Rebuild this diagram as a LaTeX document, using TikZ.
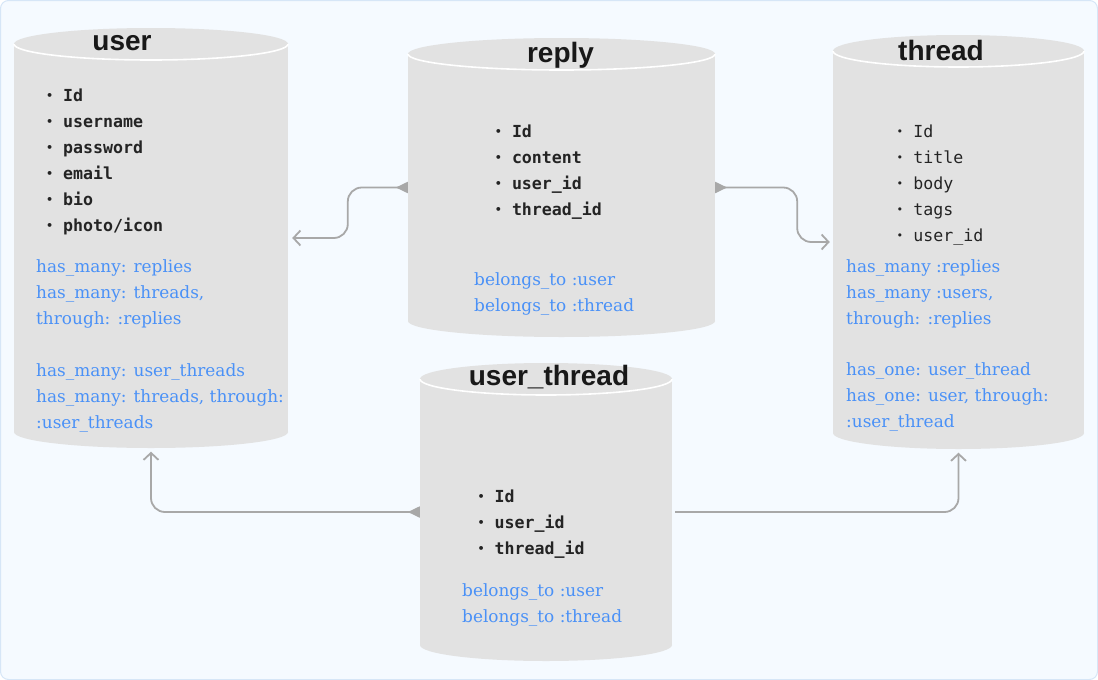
\documentclass[tikz,border=0pt]{standalone}
\usepackage{fontspec}
\setmainfont{DejaVu Serif}
\newfontfamily\titlefont{Liberation Sans}
\newfontfamily\monofont{DejaVu Sans Mono}
\usetikzlibrary{arrows.meta}
\definecolor{bgfill}{RGB}{245,250,255}
\definecolor{bgline}{RGB}{214,230,247}
\definecolor{cylgray}{RGB}{226,226,226}
\definecolor{linkgray}{RGB}{168,168,168}
\definecolor{relblue}{RGB}{74,145,247}
\definecolor{inktext}{RGB}{36,36,36}
\definecolor{titleink}{RGB}{24,24,24}
\newcommand{\dbcyl}[5]{%
  \pgfmathsetmacro\cylcx{(#2+#3)/2}%
  \pgfmathsetmacro\cylrx{(#3-#2)/2}%
  \pgfmathsetmacro\cylcy{(#4+#5)/2}%
  \pgfmathsetmacro\cylh{#5-#4+32}%
  \pgfmathsetmacro\cylw{#3-#2}%
  \fill[cylgray] (#2,#4) rectangle (#3,#5);
  \fill[cylgray] (\cylcx,#5) ellipse [x radius=\cylrx, y radius=16];
  \fill[cylgray] (\cylcx,#4) ellipse [x radius=\cylrx, y radius=16];
  \begin{scope}
    \clip (#2-4,#4) rectangle (#3+4,#4+20);
    \draw[white, line width=1.6pt] (\cylcx,#4) ellipse [x radius=\cylrx, y radius=16];
  \end{scope}
  \node[inner sep=0pt, minimum width=\cylw pt, minimum height=\cylh pt] (#1) at (\cylcx,\cylcy) {};
}
\newcommand\bul{\makebox[18.5pt][l]{\hspace{1.6pt}\raisebox{1.6pt}{\fontsize{11}{11}\selectfont •}}}
\tikzset{
  fld/.style={font=\monofont\bfseries\fontsize{16.6}{20}\selectfont, text=inktext, inner sep=0pt, anchor=base west},
  fldlight/.style={font=\monofont\fontsize{16.6}{20}\selectfont, text=inktext, inner sep=0pt, anchor=base west},
  rel/.style={font=\fontsize{16.9}{20}\selectfont, text=relblue, inner sep=0pt, anchor=base west},
  ttl/.style={font=\titlefont\bfseries\fontsize{28}{32}\selectfont, text=titleink, inner sep=0pt, anchor=base},
  link/.style={draw=linkgray, line width=1.8pt, rounded corners=14pt},
  tiptri/.style={{Triangle[reversed,length=12pt,width=11pt]}-{Straight Barb[length=7pt,width=15pt]}},
  tipopen/.style={-{Straight Barb[length=7pt,width=15pt]}}
}
\begin{document}
\begin{tikzpicture}[x=1pt,y=-1pt]
\useasboundingbox (0,0) rectangle (1098,680);
\draw[bgline, fill=bgfill, rounded corners=8pt, line width=1pt] (0.5,0.5) rectangle (1097.5,679.5);

% cylinders
\dbcyl{user}{14}{288}{44}{432}
\dbcyl{reply}{408}{715}{54}{321}
\dbcyl{thread}{833}{1084}{51}{433}
\dbcyl{userthread}{420}{672}{379}{645}

% titles
\node[ttl] (usertitle) at (122,50) {user};
\node[ttl] (replytitle) at (560.5,62) {reply};
\node[ttl] (threadtitle) at (941,60) {thread};
\node[ttl] (userthreadtitle) at (549,385) {user\_thread};

% fields
\foreach \t [count=\i] in {Id,username,password,email,bio,photo/icon}
  \node[fld] (uf\i) at (44.5,{101.5+(\i-1)*26}) {\bul\t};
\foreach \t [count=\i] in {Id,content,user\_id,thread\_id}
  \node[fld] (rf\i) at (493.3,{137+(\i-1)*26}) {\bul\t};
\foreach \t [count=\i] in {Id,title,body,tags,user\_id}
  \node[fldlight] (tf\i) at (894.7,{137+(\i-1)*26}) {\bul\t};
\foreach \t [count=\i] in {Id,user\_id,thread\_id}
  \node[fld] (utf\i) at (476,{502+(\i-1)*26}) {\bul\t};

% relations
\node[rel] (ur1) at (36,272) {has\_many: replies};
\node[rel] (ur2) at (36,298) {has\_many: threads,};
\node[rel] (ur3) at (36,324) {through: :replies};
\node[rel] (ur4) at (36,376) {has\_many: user\_threads};
\node[rel] (ur5) at (36,402) {has\_many: threads, through:};
\node[rel] (ur6) at (36,428) {:user\_threads};

\node[rel] (rr1) at (474,285) {belongs\_to :user};
\node[rel] (rr2) at (474,311) {belongs\_to :thread};

\node[rel] (tr1) at (846,272) {has\_many :replies};
\node[rel] (tr2) at (846,298) {has\_many :users,};
\node[rel] (tr3) at (846,324) {through: :replies};
\node[rel] (tr4) at (846,375) {has\_one: user\_thread};
\node[rel] (tr5) at (846,401) {has\_one: user, through:};
\node[rel] (tr6) at (846,427) {:user\_thread};

\node[rel] (utr1) at (462,596) {belongs\_to :user};
\node[rel] (utr2) at (462,622) {belongs\_to :thread};

% connectors
\draw[link, tiptri, shorten >=4pt] (reply.west) -- ++(-60,0) |- (user.east);
\draw[link, tiptri, shorten >=3pt] (reply.east) -- ++(82,0) |- (thread.west);
\draw[link, tiptri, shorten >=3.5pt] (userthread.west) -| (user.south);
\draw[link, tipopen, shorten <=3pt, shorten >=3.5pt] (userthread.east) -| (thread.south);
\end{tikzpicture}
\end{document}
